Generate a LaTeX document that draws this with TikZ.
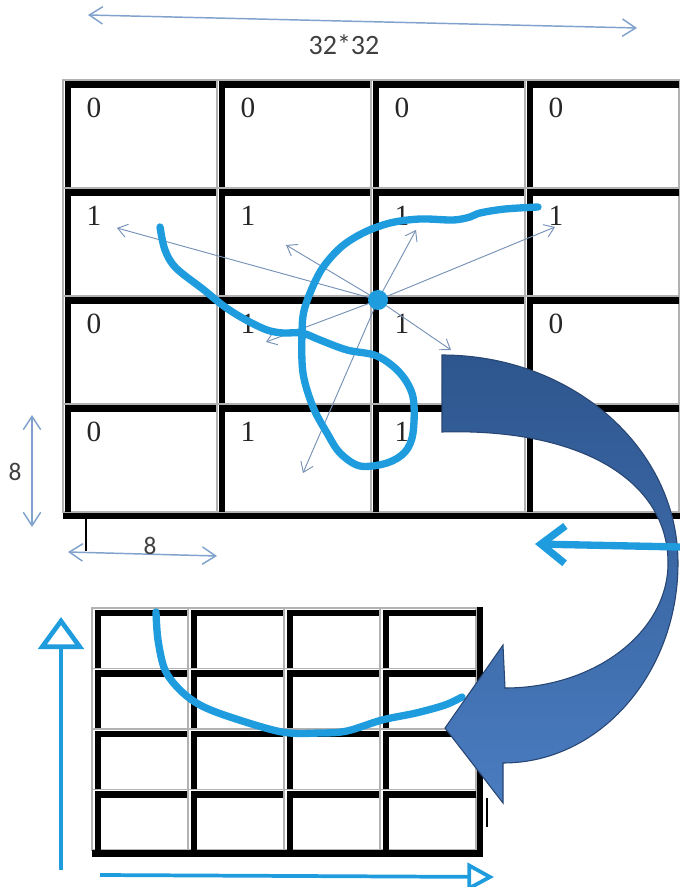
\documentclass[tikz,border=0pt]{standalone}
\usepackage{fontspec}
\setmainfont{Liberation Serif}
\newfontfamily\calibri{Carlito}
\usetikzlibrary{arrows.meta}
\definecolor{penblue}{RGB}{30,156,222}
\definecolor{probeblue}{RGB}{118,145,182}
\definecolor{dimblue}{RGB}{128,162,204}
\definecolor{bigtop}{RGB}{46,86,142}
\definecolor{bigbot}{RGB}{74,124,192}
\definecolor{bigedge}{RGB}{40,70,115}
\tikzset{
  cellgray/.style={draw=gray!60, line width=0.8pt},
  cellbar/.style={line width=5.2pt, line join=miter},
  digit/.style={font=\fontsize{22}{24}\selectfont, text=black!85},
  dimlabel/.style={font=\calibri\fontsize{19}{21}\selectfont, text=black!75},
  probe/.style={draw=probeblue, line width=0.7pt, -{Straight Barb[length=7pt,width=10pt]}},
  dimarrow/.style={draw=dimblue, line width=1.1pt, {Straight Barb[length=10pt,width=13pt]}-{Straight Barb[length=10pt,width=13pt]}},
  pen/.style={draw=penblue, line width=5.5pt, line cap=round, line join=round},
}
\begin{document}
\begin{tikzpicture}[x=0.75pt, y=-0.75pt]
	\useasboundingbox (0,0) rectangle (680,887);
	% upper table (32*32 image, 8*8 cells)
	\foreach \i in {0,...,3}
	\foreach \j in {0,...,3} {
		\pgfmathsetmacro\cx{63+154*\i}
		\pgfmathsetmacro\cy{80+108*\j}
		\draw[cellgray] (\cx,\cy) rectangle +(154,108);
		\draw[cellbar] ({\cx+5},{\cy+108}) -- ({\cx+5},{\cy+4.5}) -- ({\cx+154},{\cy+4.5});
	}
	\draw[cellbar] (63,516) -- (680,516);
	\foreach \d [count=\k from 0] in {0,0,0,0,1,1,1,1,0,1,1,0,0,1,1} {
		\pgfmathtruncatemacro\ci{mod(\k,4)}
		\pgfmathtruncatemacro\cj{floor(\k/4)}
		\node[digit] (d\k) at ({94+154*\ci},{108+108*\cj}) {\d};
	}
	% sizes
	\coordinate (wl) at (88,15);
	\coordinate (wr) at (637,28);
	\draw[dimarrow] (wl) -- (wr);
	\node[dimlabel, font=\calibri\fontsize{21}{23}\selectfont] (wlab) at (344,45) {32*32};
	\coordinate (ht) at (32,415);
	\coordinate (hb) at (32,527);
	\draw[dimarrow] (ht) -- (hb);
	\node[dimlabel] (hlab) at (15,472) {8};
	\coordinate (bl) at (68,552);
	\coordinate (br) at (217,556);
	\draw[dimarrow] (bl) -- (br);
	\node[dimlabel] (blab) at (150,546) {8};
	\coordinate (tk1) at (86,518);
	\coordinate (tk2) at (86,551);
	\draw[line width=1.5pt] (tk1) -- (tk2);
	% neighbours of the pixel
	\coordinate (pix) at (378,300);
	\foreach \p in {(117,228),(286,245),(416,230),(555,227),(266,342),(451,350),(303,473)}
		\draw[probe] (pix) -- \p;
	% stroke on the upper table
	\draw[pen] plot[smooth, tension=0.55] coordinates {(160,227) (165,250) (176,268) (204,290) (225,307) (246,320) (267,330) (283,333) (302,333) (320,340) (347,350) (377,356) (400,373) (413,397) (413,433) (405,452) (387,463) (360,466) (340,453) (327,433) (313,407) (303,373) (302,333) (305,307) (320,272) (340,248) (363,233) (390,223) (420,219) (453,220) (470,217) (480,213) (505,209) (538,207)};
	\fill[penblue] (pix) circle[radius=10];
	% lower table
	\foreach \i in {0,...,3}
	\foreach \j in {0,...,3} {
		\pgfmathsetmacro\cx{92+96*\i}
		\pgfmathsetmacro\cy{608+60.5*\j}
		\draw[cellgray] (\cx,\cy) rectangle +(96,60.5);
		\draw[cellbar] ({\cx+6},{\cy+60.5}) -- ({\cx+6},{\cy+5}) -- ({\cx+96},{\cy+5});
	}
	\draw[cellbar] (92,853.5) -- (480,853.5) -- (480,607);
	\coordinate (tk3) at (487,798);
	\coordinate (tk4) at (487,827);
	\draw[line width=1.5pt] (tk3) -- (tk4);
	\draw[pen] plot[smooth, tension=0.55] coordinates {(156,612) (158,640) (165,670) (180,690) (200,705) (230,717) (282,732) (320,733) (347,731) (382,720) (416,713) (445,705) (462,697)};
	% big curved arrow
	\shadedraw[top color=bigtop, bottom color=bigbot, draw=bigedge, line width=0.8pt]
		(442,355) -- (442,432) .. controls (580,428) and (668,480) .. (668,563)
		.. controls (668,632) and (595,688) .. (505,688) -- (503,645) -- (445,728)
		-- (503,803) -- (503,763) .. controls (600,763) and (678,673) .. (678,563)
		.. controls (678,448) and (572,355) .. (442,355) -- cycle;
	\coordinate (rs) at (680,547);
	\coordinate (re) at (535,544);
	\draw[pen, -{Straight Barb[length=18pt,width=28pt]}] (rs) -- (re);
	% axes of the lower table
	\coordinate (ya) at (61,870);
	\coordinate (yb) at (61,617);
	\draw[draw=penblue, line width=3.5pt, -{Triangle[open, length=24pt, width=34pt]}] (ya) -- (yb);
	\coordinate (xa) at (100,875);
	\coordinate (xb) at (494,877);
	\draw[draw=penblue, line width=2.8pt, -{Triangle[open, length=20pt, width=21pt]}] (xa) -- (xb);
\end{tikzpicture}
\end{document}
